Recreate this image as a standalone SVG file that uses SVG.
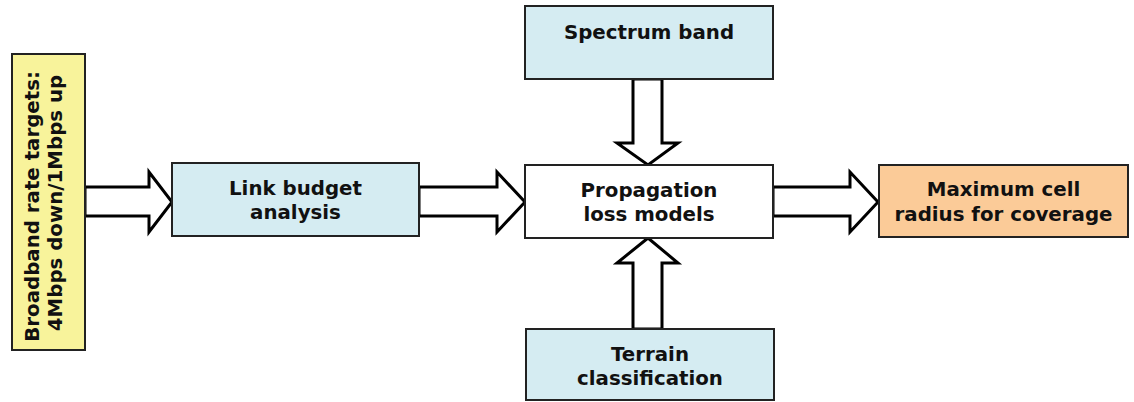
<svg xmlns="http://www.w3.org/2000/svg" width="1134" height="402" viewBox="0 0 1134 402">
  <style>
    .box { stroke: #222; stroke-width: 2; }
    .blue { fill: #D5ECF2; }
    .yellow { fill: #F8F39B; }
    .orange { fill: #FBCB98; }
    .white { fill: #FFFFFF; }
    .label { font-family: "DejaVu Sans", Verdana, sans-serif; font-weight: bold; font-size: 19.8px; fill: #111; text-anchor: middle; }
    .arrow { fill: #FFFFFF; stroke: #000; stroke-width: 3; stroke-linejoin: miter; }
  </style>
  <rect width="1134" height="402" fill="#FFFFFF"/>

  <!-- block arrows between stages -->
  <g id="connectors">
    <polygon class="arrow" points="85,187 149,187 149,172 172,202 149,232 149,216 85,216"/>
    <polygon class="arrow" points="419,187 497,187 497,172 525,202 497,232 497,216 419,216"/>
    <polygon class="arrow" points="773,187 850,187 850,172 878,202 850,232 850,216 773,216"/>
    <polygon class="arrow" points="633,79 662,79 662,143 678,143 648,165 617,143 633,143"/>
    <polygon class="arrow" points="633,329 662,329 662,263 678,263 648,238 617,263 633,263"/>
  </g>

  <g id="rate-targets">
    <rect class="box yellow" x="12" y="54" width="73" height="296"/>
    <text class="label" transform="translate(38.5,203) rotate(-90)">
      <tspan x="0" y="0">Broadband rate targets:</tspan>
      <tspan x="0" y="23.5">4Mbps down/1Mbps up</tspan>
    </text>
  </g>

  <g id="link-budget">
    <rect class="box blue" x="172" y="163" width="247" height="73"/>
    <text class="label"><tspan x="295.5" y="195">Link budget</tspan><tspan x="295.5" y="219">analysis</tspan></text>
  </g>

  <g id="spectrum-band">
    <rect class="box blue" x="525" y="6" width="248" height="73"/>
    <text class="label" x="649" y="39">Spectrum band</text>
  </g>

  <g id="propagation">
    <rect class="box white" x="525" y="165" width="248" height="73"/>
    <text class="label"><tspan x="649" y="197">Propagation</tspan><tspan x="649" y="221">loss models</tspan></text>
  </g>

  <g id="terrain">
    <rect class="box blue" x="526" y="329" width="248" height="71"/>
    <text class="label"><tspan x="650" y="361">Terrain</tspan><tspan x="650" y="385">classification</tspan></text>
  </g>

  <g id="cell-radius">
    <rect class="box orange" x="879" y="165" width="249" height="72"/>
    <text class="label"><tspan x="1003.5" y="196">Maximum cell</tspan><tspan x="1003.5" y="221">radius for coverage</tspan></text>
  </g>
</svg>
